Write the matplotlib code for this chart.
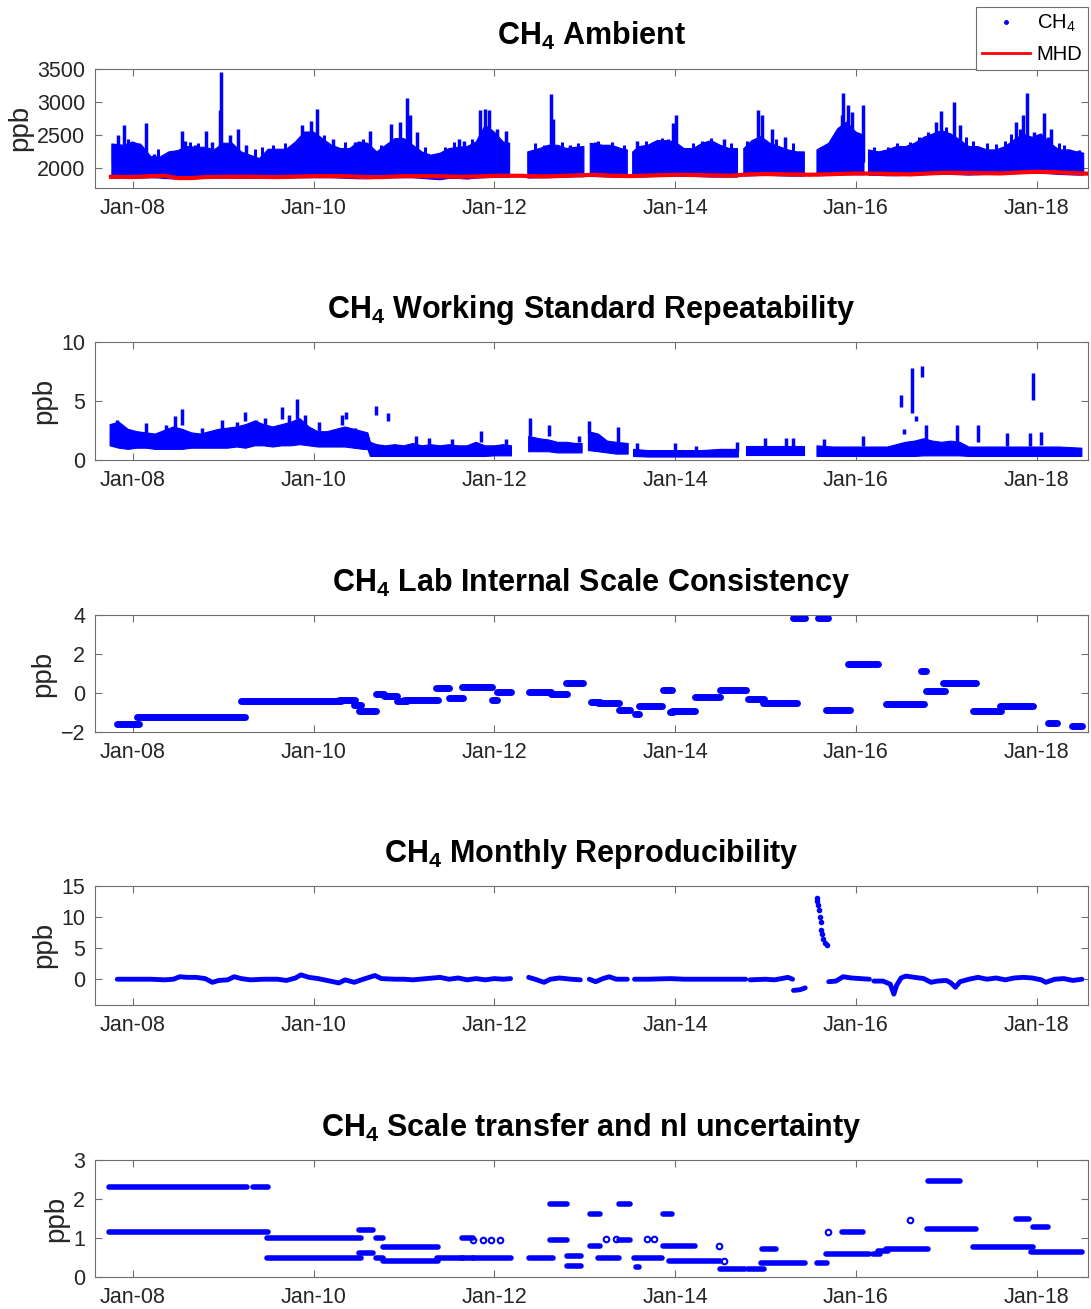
import numpy as np
import matplotlib
matplotlib.use('Agg')
import matplotlib.pyplot as plt
import matplotlib.dates as mdates
from matplotlib.lines import Line2D
from datetime import datetime

plt.rcParams['font.family'] = ['Liberation Sans', 'DejaVu Sans']
plt.rcParams['mathtext.fontset'] = 'custom'
plt.rcParams['mathtext.rm'] = 'Liberation Sans'
plt.rcParams['mathtext.bf'] = 'Liberation Sans:bold'

NaN = np.nan
BLUE = (0, 0, 1)

# ---------------- Panel 1: ambient (dense cloud envelope, decimal years; NaN = data gap) ----
amb_t = [2007.77, 2007.9, 2008.0, 2008.1, 2008.2, 2008.3, 2008.4, 2008.5, 2008.6, 2008.7,
         2008.8, 2008.9, 2009.0, 2009.1, 2009.2, 2009.3, 2009.4, 2009.5, 2009.6, 2009.7,
         2009.8, 2009.9, 2010.0, 2010.1, 2010.2, 2010.3, 2010.4, 2010.5, 2010.6, 2010.7,
         2010.8, 2010.9, 2011.0, 2011.1, 2011.2, 2011.3, 2011.4, 2011.5, 2011.6, 2011.7,
         2011.8, 2011.9, 2012.0, 2012.1, 2012.17, NaN,
         2012.37, 2012.5, 2012.6, 2012.7, 2012.8, 2012.9, 2012.99, NaN,
         2013.06, 2013.2, 2013.3, 2013.4, 2013.47, NaN,
         2013.53, 2013.6, 2013.7, 2013.8, 2013.9, 2014.0, 2014.1, 2014.2, 2014.3, 2014.4,
         2014.5, 2014.6, 2014.69, NaN,
         2014.76, 2014.85, 2014.95, 2015.05, 2015.15, 2015.25, 2015.35, 2015.43, NaN,
         2015.57, 2015.7, 2015.8, 2015.9, 2016.0, 2016.09, NaN,
         2016.14, 2016.25, 2016.35, 2016.45, 2016.55, 2016.65, 2016.75, 2016.85, 2016.95, 2017.05,
         2017.15, 2017.25, 2017.35, 2017.45, 2017.55, 2017.65, 2017.75, 2017.85, 2017.95, 2018.05,
         2018.15, 2018.25, 2018.35, 2018.45, 2018.52]
amb_top = [2370, 2350, 2400, 2350, 2180, 2170, 2250, 2270, 2330, 2320,
           2320, 2280, 2380, 2380, 2250, 2200, 2150, 2290, 2290, 2290,
           2400, 2550, 2550, 2450, 2350, 2300, 2300, 2400, 2380, 2250,
           2350, 2450, 2450, 2350, 2250, 2200, 2230, 2300, 2320, 2330,
           2400, 2650, 2550, 2400, 2380, NaN,
           2250, 2300, 2350, 2350, 2300, 2320, 2330, NaN,
           2380, 2350, 2350, 2300, 2280, NaN,
           2250, 2330, 2350, 2420, 2420, 2400, 2300, 2300, 2380, 2420,
           2350, 2300, 2300, NaN,
           2300, 2420, 2480, 2380, 2330, 2280, 2250, 2250, NaN,
           2280, 2380, 2600, 2700, 2550, 2500, NaN,
           2280, 2250, 2280, 2330, 2330, 2380, 2470, 2520, 2570, 2520,
           2430, 2330, 2330, 2280, 2280, 2330, 2430, 2520, 2470, 2520,
           2380, 2280, 2280, 2250, 2230]
amb_low = [1855, 1855, 1850, 1855, 1860, 1855, 1845, 1840, 1845, 1850,
           1850, 1855, 1855, 1855, 1850, 1850, 1850, 1850, 1850, 1855,
           1860, 1860, 1860, 1860, 1860, 1855, 1850, 1845, 1845, 1850,
           1855, 1860, 1860, 1860, 1850, 1840, 1830, 1850, 1850, 1840,
           1855, 1860, 1865, 1865, 1865, NaN,
           1855, 1860, 1860, 1865, 1870, 1875, 1875, NaN,
           1880, 1875, 1870, 1865, 1865, NaN,
           1865, 1870, 1875, 1880, 1885, 1885, 1880, 1880, 1875, 1870,
           1870, 1870, 1870, NaN,
           1885, 1890, 1895, 1895, 1890, 1885, 1885, 1885, NaN,
           1890, 1895, 1900, 1905, 1905, 1905, NaN,
           1900, 1895, 1890, 1890, 1895, 1900, 1905, 1910, 1910, 1910,
           1905, 1900, 1905, 1910, 1915, 1920, 1920, 1925, 1925, 1925,
           1920, 1910, 1905, 1900, 1900]

# tall isolated columns of points above the cloud
amb_spk_t = [2007.78, 2007.84, 2007.9, 2008.07, 2008.15, 2008.24, 2008.42, 2008.54, 2008.58, 2008.69,
             2008.81, 2008.88, 2008.96, 2008.98, 2009.08, 2009.16, 2009.25, 2009.5, 2009.61, 2009.75,
             2009.87, 2009.97, 2010.04, 2010.09, 2010.21, 2010.46, 2010.5, 2010.63, 2010.86, 2010.96,
             2011.03, 2011.07, 2011.15, 2011.61, 2011.67, 2011.84, 2011.9, 2011.94, 2012.03, 2012.13,
             2012.63, 2012.65, 2012.84, 2013.11, 2013.23, 2013.58, 2013.92, 2013.98, 2014.01, 2014.54,
             2014.92, 2014.96, 2015.07, 2015.22, 2015.69, 2015.85, 2015.86, 2015.91, 2015.96, 2016.08,
             2016.25, 2016.89, 2016.94, 2017.08, 2017.15, 2017.77, 2017.85, 2017.89, 2017.97, 2018.08,
             2018.16, 2018.36, 2018.47]
amb_spk_v = [2350, 2500, 2650, 2380, 2680, 2220, 2250, 2560, 2420, 2350,
             2570, 2400, 2880, 3450, 2500, 2600, 2360, 2300, 2300, 2250,
             2650, 2720, 2890, 2450, 2450, 2400, 2400, 2570, 2670, 2700,
             3070, 2800, 2550, 2450, 2420, 2880, 2890, 2880, 2600, 2560,
             3130, 2740, 2350, 2400, 2350, 2420, 2450, 2680, 2800, 2450,
             2880, 2800, 2600, 2480, 2350, 2800, 3140, 2950, 2850, 2960,
             2250, 2700, 2870, 3000, 2650, 2700, 2800, 3140, 2550, 2830,
             2600, 2300, 2280]
# shorter columns sticking out of the cloud
amb_col_t = [2007.95, 2008.28, 2008.63, 2008.72, 2009.35, 2009.43, 2009.55, 2009.68, 2010.12, 2010.35,
             2010.55, 2010.75, 2011.23, 2011.45, 2011.55, 2011.75, 2012.45, 2012.55, 2012.75, 2012.92,
             2013.15, 2013.3, 2013.43, 2013.68, 2013.75, 2013.85, 2014.2, 2014.3, 2014.4, 2014.62,
             2014.8, 2015.12, 2015.3, 2015.62, 2015.75, 2016.2, 2016.35, 2016.45, 2016.6, 2016.7,
             2016.8, 2017.0, 2017.22, 2017.3, 2017.45, 2017.55, 2017.65, 2017.72, 2017.82, 2018.02,
             2018.12, 2018.25, 2018.3]
amb_col_v = [2450, 2300, 2400, 2380, 2300, 2330, 2350, 2380, 2500, 2400,
             2450, 2350, 2330, 2330, 2400, 2450, 2380, 2350, 2400, 2380,
             2420, 2400, 2350, 2420, 2400, 2460, 2380, 2420, 2460, 2380,
             2420, 2450, 2380, 2330, 2460, 2330, 2330, 2380, 2400, 2470,
             2550, 2620, 2470, 2420, 2380, 2370, 2420, 2520, 2600, 2520,
             2470, 2380, 2350]

mhd_t = [2007.76, 2008.0, 2008.2, 2008.35, 2008.5, 2008.65, 2008.8, 2009.0, 2009.3, 2009.6,
         2009.75, 2010.0, 2010.3, 2010.6, 2010.75, 2011.0, 2011.3, 2011.6, 2011.8, 2012.0,
         2012.3, 2012.5, 2012.7, 2013.0, 2013.1, 2013.3, 2013.5, 2013.75, 2014.0, 2014.3,
         2014.6, 2014.8, 2015.0, 2015.3, 2015.5, 2015.75, 2016.0, 2016.3, 2016.6, 2016.8,
         2017.0, 2017.3, 2017.6, 2017.8, 2018.0, 2018.2, 2018.4, 2018.6]
mhd_v = [1875, 1870, 1885, 1890, 1855, 1855, 1870, 1875, 1875, 1870,
         1875, 1885, 1885, 1870, 1870, 1885, 1885, 1875, 1880, 1890,
         1890, 1880, 1885, 1900, 1905, 1890, 1885, 1895, 1905, 1900,
         1890, 1910, 1915, 1910, 1905, 1915, 1925, 1920, 1910, 1925,
         1935, 1930, 1925, 1940, 1950, 1945, 1930, 1920]

# ---------------- Panel 2: working standard repeatability --------------------
wsr_t = [2007.75, 2007.85, 2007.95, 2008.05, 2008.15, 2008.25, 2008.35, 2008.45, 2008.55, 2008.65,
         2008.75, 2008.85, 2008.95, 2009.05, 2009.15, 2009.25, 2009.35, 2009.45, 2009.55, 2009.65,
         2009.75, 2009.85, 2009.95, 2010.05, 2010.15, 2010.25, 2010.35, 2010.45, 2010.55, 2010.6,
         2010.63, 2010.7, 2010.8, 2010.9, 2011.0, 2011.1, 2011.2, 2011.3, 2011.4, 2011.5,
         2011.6, 2011.7, 2011.8, 2011.9, 2012.0, 2012.1, 2012.19, NaN,
         2012.38, 2012.5, 2012.6, 2012.7, 2012.8, 2012.9, 2012.97, NaN,
         2013.04, 2013.15, 2013.25, 2013.35, 2013.48, NaN,
         2013.54, 2013.7, 2013.9, 2014.1, 2014.3, 2014.5, 2014.7, NaN,
         2014.78, 2014.95, 2015.15, 2015.3, 2015.43, NaN,
         2015.57, 2015.75, 2015.95, 2016.15, 2016.35, 2016.45, 2016.55, 2016.65, 2016.75, 2016.85,
         2016.95, 2017.05, 2017.15, 2017.25, 2017.45, 2017.65, 2017.85, 2018.05, 2018.25, 2018.5]
wsr_low = [1.2, 1.0, 0.9, 1.0, 1.0, 0.9, 0.9, 0.9, 0.9, 1.0,
           1.0, 1.0, 1.0, 1.0, 1.1, 1.0, 1.2, 1.2, 1.1, 1.2,
           1.2, 1.3, 1.2, 1.1, 1.1, 1.1, 1.1, 1.0, 0.9, 0.9,
           0.3, 0.3, 0.3, 0.3, 0.3, 0.3, 0.3, 0.3, 0.3, 0.3,
           0.3, 0.3, 0.3, 0.3, 0.35, 0.35, 0.35, NaN,
           0.7, 0.7, 0.7, 0.6, 0.6, 0.6, 0.6, NaN,
           0.8, 0.7, 0.6, 0.5, 0.5, NaN,
           0.3, 0.25, 0.25, 0.25, 0.25, 0.25, 0.25, NaN,
           0.4, 0.4, 0.4, 0.4, 0.4, NaN,
           0.3, 0.3, 0.3, 0.3, 0.3, 0.3, 0.3, 0.3, 0.35, 0.35,
           0.35, 0.35, 0.35, 0.3, 0.3, 0.3, 0.3, 0.3, 0.3, 0.3]
wsr_top = [3.0, 3.2, 2.6, 2.4, 2.3, 2.2, 2.5, 2.8, 2.6, 2.3,
           2.2, 2.4, 2.6, 2.7, 2.8, 3.0, 3.3, 3.0, 2.8, 3.0,
           3.2, 3.5, 2.8, 2.4, 2.4, 2.6, 2.8, 2.6, 2.4, 2.3,
           1.5, 1.3, 1.2, 1.3, 1.2, 1.4, 1.2, 1.3, 1.2, 1.3,
           1.2, 1.2, 1.5, 1.2, 1.2, 1.3, 1.2, NaN,
           2.0, 1.8, 1.7, 1.5, 1.5, 1.4, 1.4, NaN,
           2.4, 2.2, 1.6, 1.5, 1.4, NaN,
           0.9, 0.8, 0.8, 0.8, 0.8, 0.9, 0.9, NaN,
           1.2, 1.2, 1.2, 1.2, 1.2, NaN,
           1.2, 1.1, 1.1, 1.1, 1.1, 1.3, 1.5, 1.6, 1.8, 1.6,
           1.5, 1.6, 1.5, 1.1, 1.1, 1.1, 1.1, 1.1, 1.1, 1.0]

wsr_spk_t = [2007.83, 2008.15, 2008.37, 2008.47, 2008.55, 2008.77, 2008.99, 2009.15, 2009.24, 2009.36,
             2009.46, 2009.65, 2009.73, 2009.82, 2009.9, 2010.06, 2010.31, 2010.36, 2010.46, 2010.69,
             2010.82, 2011.13, 2011.28, 2011.53, 2011.85, 2012.13, 2012.4, 2012.61, 2012.94, 2013.05,
             2013.37, 2013.58, 2014.0, 2014.23, 2014.69, 2015.0, 2015.23, 2015.31, 2015.65, 2016.08,
             2016.5, 2016.53, 2016.62, 2016.66, 2016.73, 2016.77, 2017.12, 2017.35, 2017.67, 2017.93,
             2017.96, 2018.05]
wsr_spk_lo = [1.5, 2.0, 2.0, 2.5, 3.0, 2.0, 2.5, 2.5, 3.3, 2.5,
              2.5, 3.5, 3.0, 3.5, 3.0, 2.5, 3.0, 3.5, 2.4, 3.8,
              3.3, 1.2, 1.2, 1.2, 1.5, 1.3, 2.0, 2.0, 1.5, 2.3,
              1.5, 0.8, 0.8, 0.8, 0.8, 1.2, 1.2, 1.2, 1.2, 1.2,
              4.5, 2.2, 4.0, 3.3, 7.0, 1.5, 1.5, 1.5, 1.2, 1.2,
              5.1, 1.3]
wsr_spk_hi = [3.4, 3.1, 3.0, 3.7, 4.3, 2.7, 3.4, 3.2, 4.1, 3.4,
              3.6, 4.5, 3.8, 5.2, 3.8, 3.2, 3.8, 4.1, 2.7, 4.6,
              4.0, 2.0, 1.9, 1.8, 2.5, 1.8, 3.6, 3.0, 2.0, 3.3,
              2.8, 1.4, 1.4, 1.2, 1.5, 1.9, 1.9, 1.9, 1.8, 2.0,
              5.5, 2.6, 7.8, 3.7, 8.0, 3.0, 3.0, 3.0, 2.3, 2.3,
              7.4, 2.4]

# ---------------- Panel 3: lab internal scale consistency (segments) ---------
lisc_start = [2007.83, 2008.05, 2009.2, 2010.28, 2010.45, 2010.5, 2010.69, 2010.78, 2010.92, 2011.0,
              2011.35, 2011.5, 2011.64, 2011.98, 2012.03, 2012.38, 2012.63, 2012.79, 2013.07, 2013.15,
              2013.38, 2013.55, 2013.6, 2013.86, 2013.94, 2013.96, 2014.22, 2014.5, 2014.81, 2014.97,
              2015.31, 2015.58, 2015.67, 2015.91, 2016.19, 2016.33, 2016.72, 2016.78, 2016.96, 2017.3,
              2017.59, 2018.12, 2018.39]
lisc_end = [2008.07, 2009.24, 2010.3, 2010.46, 2010.52, 2010.69, 2010.78, 2010.92, 2011.03, 2011.38,
            2011.5, 2011.65, 2011.98, 2012.03, 2012.18, 2012.63, 2012.8, 2012.98, 2013.17, 2013.38,
            2013.5, 2013.6, 2013.85, 2013.96, 2013.98, 2014.22, 2014.5, 2014.78, 2014.98, 2015.35,
            2015.44, 2015.69, 2015.94, 2016.17, 2016.25, 2016.75, 2016.78, 2016.98, 2017.33, 2017.6,
            2017.96, 2018.23, 2018.5]
lisc_val = [-1.58, -1.21, -0.39, -0.34, -0.6, -0.94, -0.05, -0.15, -0.43, -0.38,
            0.27, -0.26, 0.32, -0.38, 0.03, 0.03, -0.03, 0.51, -0.46, -0.51,
            -0.85, -1.09, -0.66, 0.15, -0.99, -0.9, -0.22, 0.15, -0.29, -0.51,
            3.86, 3.86, -0.85, 1.51, 1.51, -0.56, 1.14, 0.12, 0.49, -0.94,
            -0.66, -1.55, -1.67]

# ---------------- Panel 4: monthly reproducibility ---------------------------
mr_t = [2007.83, 2008.0, 2008.2, 2008.35, 2008.45, 2008.52, 2008.6, 2008.7, 2008.8, 2008.88,
        2008.95, 2009.05, 2009.12, 2009.2, 2009.3, 2009.45, 2009.6, 2009.7, 2009.8, 2009.86,
        2009.95, 2010.05, 2010.15, 2010.28, 2010.35, 2010.45, 2010.55, 2010.68, 2010.75, 2010.9,
        2011.0, 2011.1, 2011.25, 2011.4, 2011.5, 2011.6, 2011.7, 2011.8, 2011.9, 2012.0,
        2012.1, 2012.18, NaN, 2012.38, 2012.45, 2012.55, 2012.62, 2012.72, 2012.85, 2012.95,
        NaN, 2013.05, 2013.12, 2013.2, 2013.27, 2013.35, 2013.47, NaN, 2013.55, 2013.7,
        2013.95, 2014.1, 2014.4, 2014.78, NaN, 2014.83, 2015.0, 2015.1, 2015.25, 2015.3,
        NaN, 2015.31, 2015.38, 2015.44, NaN, 2015.7, 2015.78, 2015.86, 2015.95, 2016.05,
        2016.15, NaN, 2016.2, 2016.3, 2016.38, 2016.42, 2016.45, 2016.5, 2016.55, 2016.65,
        2016.75, 2016.83, 2016.9, 2017.0, 2017.05, 2017.1, 2017.15, 2017.25, 2017.35, 2017.45,
        2017.55, 2017.65, 2017.75, 2017.85, 2017.95, 2018.05, 2018.1, 2018.2, 2018.3, 2018.4,
        2018.5]
mr_v = [0.0, 0.0, 0.0, -0.1, 0.0, 0.4, 0.3, 0.3, 0.1, -0.5,
        -0.2, -0.1, 0.4, 0.1, -0.1, 0.0, 0.0, -0.2, 0.2, 0.7,
        0.3, 0.1, -0.2, -0.6, -0.1, -0.5, 0.0, 0.6, 0.1, 0.0,
        0.0, -0.1, 0.1, 0.3, 0.0, 0.2, -0.1, 0.1, -0.1, 0.1,
        0.0, 0.1, NaN, 0.3, 0.0, -0.5, 0.0, 0.2, 0.0, -0.1,
        NaN, 0.0, -0.4, 0.1, 0.4, 0.0, 0.0, NaN, 0.0, 0.0,
        0.1, 0.0, 0.0, 0.0, NaN, -0.1, 0.0, -0.1, 0.3, 0.0,
        NaN, -1.8, -1.7, -1.4, NaN, -0.4, -0.3, 0.4, 0.2, 0.1,
        0.0, NaN, -0.3, -0.3, -0.8, -2.4, -1.0, 0.2, 0.5, 0.3,
        0.1, -0.5, -0.3, -0.2, -0.6, -1.3, -0.4, 0.0, 0.3, 0.0,
        0.2, -0.1, 0.2, 0.3, 0.2, -0.1, -0.5, 0.0, 0.1, -0.2,
        0.0]
mr_spk_t = [2015.57, 2015.575, 2015.58, 2015.59, 2015.6, 2015.61, 2015.62, 2015.63, 2015.64, 2015.66, 2015.68]
mr_spk_v = [13.0, 12.6, 12.0, 11.2, 10.0, 9.2, 8.0, 7.2, 6.5, 5.8, 5.5]

# ---------------- Panel 5: scale transfer and nl uncertainty (segments) ------
st_start = [2007.74, 2009.33, 2007.74, 2009.48, 2009.48, 2010.5, 2010.5, 2010.69, 2010.69, 2010.77,
            2010.77, 2011.37, 2011.64, 2011.64, 2011.77, 2012.38, 2012.62, 2012.62, 2012.8, 2012.8,
            2013.06, 2013.06, 2013.15, 2013.38, 2013.38, 2013.54, 2013.57, 2013.86, 2013.86, 2013.93,
            2014.5, 2014.81, 2014.96, 2014.95, 2015.57, 2015.67, 2015.85, 2016.19, 2016.24, 2016.33,
            2016.8, 2016.79, 2017.29, 2017.77, 2017.94, 2017.96]
st_end = [2009.26, 2009.5, 2009.5, 2010.53, 2010.53, 2010.66, 2010.66, 2010.77, 2010.77, 2011.38,
          2011.38, 2011.65, 2011.77, 2011.77, 2012.19, 2012.65, 2012.8, 2012.8, 2012.96, 2012.96,
          2013.17, 2013.17, 2013.38, 2013.5, 2013.5, 2013.85, 2013.6, 2013.97, 2014.22, 2014.5,
          2014.77, 2014.98, 2015.12, 2015.44, 2015.68, 2016.15, 2016.08, 2016.27, 2016.35, 2016.8,
          2017.15, 2017.33, 2017.96, 2017.91, 2018.5, 2018.12]
st_val = [2.32, 2.32, 1.16, 1.0, 0.5, 1.2, 0.62, 1.0, 0.5, 0.78,
          0.4, 0.48, 1.0, 0.5, 0.48, 0.48, 1.87, 0.95, 0.55, 0.27,
          1.62, 0.8, 0.5, 1.87, 0.95, 0.5, 0.25, 1.62, 0.8, 0.4,
          0.2, 0.2, 0.73, 0.37, 0.37, 0.58, 1.15, 0.6, 0.67, 0.73,
          2.47, 1.23, 0.77, 1.49, 0.65, 1.28]
st_dot_t = [2011.76, 2011.88, 2011.96, 2012.06, 2013.24, 2013.34, 2013.69, 2013.77, 2014.48, 2014.54,
            2015.69, 2016.6]
st_dot_v = [0.95, 0.95, 0.95, 0.95, 0.98, 0.98, 0.98, 0.98, 0.8, 0.4,
            1.15, 1.45]

# ---------------- axis settings -------------------------------------------
titles = [r'CH$_\mathbf{4}$ Ambient', r'CH$_\mathbf{4}$ Working Standard Repeatability',
          r'CH$_\mathbf{4}$ Lab Internal Scale Consistency', r'CH$_\mathbf{4}$ Monthly Reproducibility',
          r'CH$_\mathbf{4}$ Scale transfer and nl uncertainty']
ylims = [(1710, 3500), (0, 10), (-2, 4), (-4.1, 15), (0, 3)]
yticks = [[2000, 2500, 3000, 3500], [0, 5, 10], [-2, 0, 2, 4], [0, 5, 10, 15], [0, 1, 2, 3]]
xlim_years = [2007.583, 2018.571]
xtick_years = [2008, 2010, 2012, 2014, 2016, 2018]


def dnum(y):
    y = np.atleast_1d(np.asarray(y, dtype=float))
    out = np.full(y.shape, np.nan)
    ok = ~np.isnan(y)
    yi = np.floor(y[ok]).astype(int)
    s = np.array([mdates.date2num(datetime(v, 1, 1)) for v in yi])
    e = np.array([mdates.date2num(datetime(v + 1, 1, 1)) for v in yi])
    out[ok] = s + (y[ok] - yi) * (e - s)
    return out


W, H = 1091, 1309
fig = plt.figure(figsize=(W / 100, H / 100), dpi=100)
panel_px = [(69, 187.7), (342, 460), (615, 732), (886, 1004.7), (1160, 1277)]
axes = []
for (t, b) in panel_px:
    ax = fig.add_axes([95 / W, 1 - b / H, 993.3 / W, (b - t) / H])
    axes.append(ax)

SPINE = '#6e6e6e'
for i, ax in enumerate(axes):
    ax.set_xlim(dnum(xlim_years))
    ax.set_ylim(*ylims[i])
    ax.set_yticks(yticks[i])
    ax.set_xticks(dnum(xtick_years))
    ax.xaxis.set_major_formatter(mdates.DateFormatter('%b-%y'))
    ax.tick_params(direction='in', length=5, width=0.8, colors=SPINE, labelcolor='#262626',
                   labelsize=15.5, top=True, right=True)
    ax.tick_params(axis='x', pad=7.5)
    ax.tick_params(axis='y', pad=7)
    for s in ax.spines.values():
        s.set_color(SPINE)
        s.set_linewidth(0.8)
    ax.set_ylabel('ppb', fontsize=20, color='#262626', labelpad=3)
    ax.set_title(titles[i], fontsize=22, fontweight='bold', pad=17)

# panel 1
ax = axes[0]
ax.fill_between(dnum(amb_t), amb_low, amb_top, color=BLUE, linewidth=0.8, edgecolor=BLUE, zorder=2)
ax.vlines(dnum(amb_col_t), 2100, amb_col_v, colors=BLUE, linewidth=2.2, zorder=2)
ax.vlines(dnum(amb_spk_t), 2100, amb_spk_v, colors=BLUE, linewidth=2.5, zorder=2)
ax.plot(dnum(mhd_t), mhd_v, color='red', linewidth=3, zorder=3)

# panel 2
ax = axes[1]
ax.fill_between(dnum(wsr_t), wsr_low, wsr_top, color=BLUE, linewidth=0.8, edgecolor=BLUE, zorder=2)
ax.vlines(dnum(wsr_spk_t), wsr_spk_lo, wsr_spk_hi, colors=BLUE, linewidth=2.5, zorder=2)

# panel 3
ax = axes[2]
ax.hlines(lisc_val, dnum(lisc_start), dnum(lisc_end), colors=BLUE, linewidth=5,
          capstyle='round', zorder=2)

# panel 4
ax = axes[3]
ax.plot(dnum(mr_t), mr_v, color=BLUE, linewidth=3.5, solid_capstyle='round',
        solid_joinstyle='round', zorder=2)
ax.plot(dnum(mr_spk_t), mr_spk_v, 'o', ms=3, mfc=BLUE, mec=BLUE, zorder=2)

# panel 5
ax = axes[4]
ax.hlines(st_val, dnum(st_start), dnum(st_end), colors=BLUE, linewidth=4,
          capstyle='round', zorder=2)
ax.plot(dnum(st_dot_t), st_dot_v, 'o', ms=4, mfc='none', mec=BLUE, mew=1.5, zorder=2)

# legend
handles = [Line2D([], [], linestyle='none', marker='.', markersize=5, color=BLUE),
           Line2D([], [], color='red', linewidth=2)]
leg = fig.legend(handles, [r'CH$_4$', 'MHD'], loc='upper right',
                 bbox_to_anchor=(1088.3 / W, 1 - 7 / H), fontsize=14.5, frameon=True,
                 fancybox=False, edgecolor=SPINE, framealpha=1, borderpad=0.3,
                 handlelength=2.4, handletextpad=0.3, labelspacing=0.55, borderaxespad=0)
leg.get_frame().set_linewidth(0.8)

fig.savefig('out.png', dpi=100)
